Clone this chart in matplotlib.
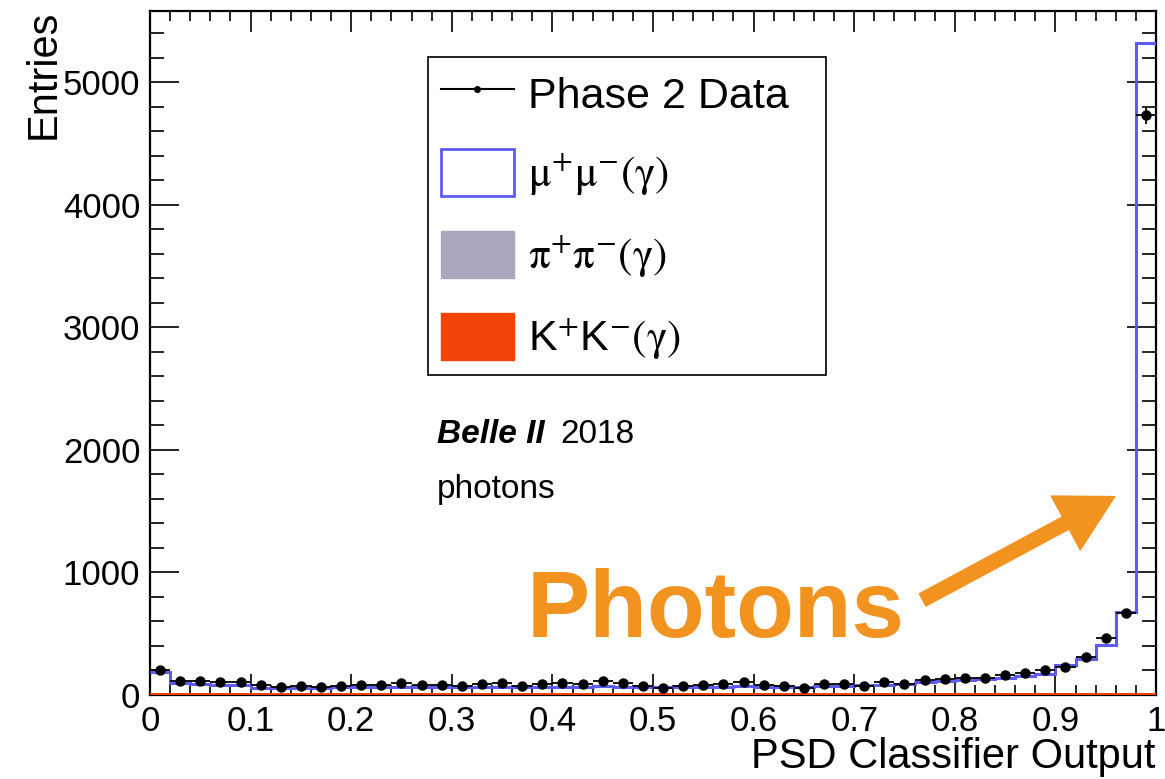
import numpy as np
import matplotlib
matplotlib.use("Agg")
import matplotlib.pyplot as plt
from matplotlib.lines import Line2D
from matplotlib.patches import Patch
from matplotlib.ticker import MultipleLocator

plt.rcParams['font.family'] = ['Liberation Sans', 'DejaVu Sans']
plt.rcParams['mathtext.fontset'] = 'stix'

# 50 bins from 0 to 1
bin_lo = 0.0
bin_hi = 1.0
n_bins = 50

# Phase 2 data (entries per bin)
data_counts = [204, 114, 114, 103, 106, 79, 65, 73, 68, 76,
               82, 79, 95, 82, 82, 76, 90, 101, 76, 87,
               98, 87, 111, 95, 76, 60, 76, 79, 90, 109,
               82, 76, 54, 92, 87, 73, 103, 87, 120, 128,
               139, 136, 163, 182, 207, 231, 313, 462, 672, 4731]

# MC stack: K+K-, pi+pi-, mu+mu-
kk_counts = [14, 13, 13, 13, 13, 13, 13, 13, 13, 13,
             13, 13, 13, 13, 13, 13, 13, 13, 13, 13,
             13, 13, 13, 13, 13, 13, 13, 13, 13, 13,
             13, 13, 13, 13, 13, 13, 13, 13, 13, 13,
             13, 13, 13, 13, 13, 13, 13, 13, 13, 13]
pipi_counts = [3, 2, 2, 2, 2, 2, 2, 2, 2, 2,
               2, 2, 2, 2, 2, 2, 2, 2, 2, 2,
               2, 2, 2, 2, 2, 2, 2, 2, 2, 2,
               2, 2, 2, 2, 2, 2, 2, 2, 2, 2,
               2, 2, 2, 2, 2, 2, 2, 2, 2, 2]
mumu_counts = [168, 80, 75, 69, 67, 42, 40, 43, 45, 47,
               48, 49, 51, 51, 50, 51, 52, 53, 51, 52,
               53, 53, 55, 53, 51, 49, 50, 51, 53, 55,
               53, 51, 49, 57, 60, 63, 67, 73, 91, 96,
               105, 113, 121, 137, 159, 227, 276, 390, 665, 5303]

x_ticks = [0, 0.1, 0.2, 0.3, 0.4, 0.5, 0.6, 0.7, 0.8, 0.9, 1]
x_tick_labels = ['0', '0.1', '0.2', '0.3', '0.4', '0.5', '0.6', '0.7', '0.8', '0.9', '1']
y_ticks = [0, 1000, 2000, 3000, 4000, 5000]

blue = '#5c5cf2'
grey = '#a9a6be'
kk_col = '#f44309'
orange = '#f2921f'

edges = np.linspace(bin_lo, bin_hi, n_bins + 1)
centers = 0.5 * (edges[1:] + edges[:-1])
kk = np.array(kk_counts, dtype=float)
pipi = np.array(pipi_counts, dtype=float)
mumu = np.array(mumu_counts, dtype=float)
data = np.array(data_counts, dtype=float)

fig = plt.figure(figsize=(11.65, 7.79), dpi=100)
ax = fig.add_axes([150 / 1165, 1 - 695 / 779, 1006 / 1165, 684 / 779])

# stacked MC
ax.stairs(kk, edges, baseline=0, fill=True, color=kk_col, zorder=2.6)
ax.stairs(kk + pipi, edges, baseline=kk, fill=True, color=grey, zorder=2.6)
ax.stairs(kk + pipi + mumu, edges, baseline=None, color=blue, lw=2.2, zorder=3)

# data
ax.errorbar(centers, data, xerr=(edges[1] - edges[0]) / 2, yerr=np.sqrt(data),
            fmt='o', color='black', ms=6.5, lw=1.3, capsize=0, zorder=4)

ax.set_xlim(bin_lo, bin_hi)
ax.set_ylim(0, 5580)
ax.set_xticks(x_ticks)
ax.set_xticklabels(x_tick_labels, fontsize=25)
ax.set_yticks(y_ticks)
ax.tick_params(axis='y', labelsize=25)
ax.xaxis.set_minor_locator(MultipleLocator(0.02))
ax.yaxis.set_minor_locator(MultipleLocator(200))
ax.tick_params(which='both', direction='in', top=True, right=True, width=1.2)
ax.tick_params(axis='x', which='major', length=15, pad=7)
ax.tick_params(axis='x', which='minor', length=7)
ax.tick_params(axis='y', which='major', length=21, pad=7)
ax.tick_params(axis='y', which='minor', length=10)
for s in ax.spines.values():
    s.set_linewidth(1.6)

fig.text(1155 / 1165, 1 - 757 / 779, 'PSD Classifier Output',
         fontsize=30, ha='right', va='center')
fig.text(44 / 1165, 1 - 10 / 779, 'Entries', fontsize=30,
         rotation=90, ha='center', va='top')

# legend
handles = [
    Line2D([0], [0], color='black', marker='o', ms=4, lw=1.5),
    Patch(facecolor='white', edgecolor=blue, lw=2),
    Patch(facecolor=grey, edgecolor=grey),
    Patch(facecolor=kk_col, edgecolor=kk_col),
]
labels = ['Phase 2 Data',
          r'$\mathrm{\mu^{+}\mu^{-}(\gamma)}$',
          r'$\mathrm{\pi^{+}\pi^{-}(\gamma)}$',
          r'K$^{+}$K$^{-}$$\mathrm{(\gamma)}$']
leg = ax.legend(handles, labels, loc='upper left',
                bbox_to_anchor=(0.276, 0.472, 0.396, 0.461), mode='expand',
                borderaxespad=0, fontsize=31, frameon=True, fancybox=False,
                edgecolor='black', framealpha=1, handlelength=1.7,
                handleheight=1.3, handletextpad=0.33, labelspacing=0.76,
                borderpad=0.3)
leg.get_frame().set_linewidth(1.2)

# Belle II label
ax.text(0.285, 0.368, 'Belle II', transform=ax.transAxes, fontsize=24,
        fontweight='bold', fontstyle='italic', va='baseline')
ax.text(0.408, 0.368, '2018', transform=ax.transAxes, fontsize=24, va='baseline')
ax.text(0.285, 0.288, 'photons', transform=ax.transAxes, fontsize=24, va='baseline')

# annotation
ax.text(0.374, 0.085, 'Photons', transform=ax.transAxes, fontsize=68,
        fontweight='bold', color=orange, va='baseline')
ax.annotate('', xy=(0.959, 0.29), xytext=(0.768, 0.139),
            xycoords='axes fraction', textcoords='axes fraction',
            arrowprops=dict(arrowstyle='simple,head_length=40,head_width=44,tail_width=10',
                            mutation_scale=1, color=orange, shrinkA=0, shrinkB=0))

fig.savefig('out.png', dpi=100)
